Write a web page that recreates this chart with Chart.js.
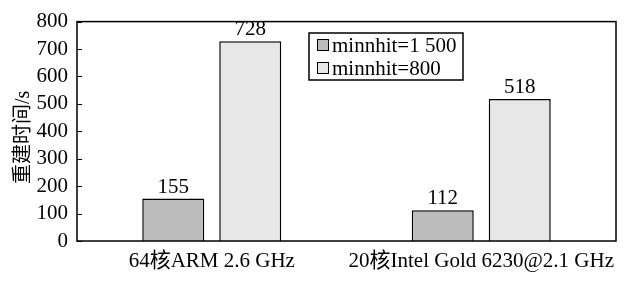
<!DOCTYPE html>
<html><head><meta charset="utf-8">
<script src="https://cdn.jsdelivr.net/npm/chart.js@4"></script>
<style>html,body{margin:0;padding:0;background:#fff}#wrap{width:627px;height:285px}</style>
</head><body><div id="wrap"><canvas id="c" width="627" height="285"></canvas></div>
<script>
const categories = ["64核ARM 2.6 GHz", "20核Intel Gold 6230@2.1 GHz"];
const seriesNames = ["minnhit=1 500", "minnhit=800"];
const minnhit1500 = [155, 112];
const minnhit800 = [728, 518];
const yTitle = "重建时间/s";
const FONT = "'Liberation Serif','Times New Roman','Noto Sans CJK SC',serif";

const framePlugin = {
  id: 'frame',
  afterDatasetsDraw(chart) {
    const {ctx, chartArea: a, scales: {y}} = chart;
    ctx.save();
    ctx.strokeStyle = '#000';
    ctx.lineWidth = 1.5;
    ctx.strokeRect(a.left, a.top, a.right - a.left, a.bottom - a.top);
    ctx.lineWidth = 1;
    y.ticks.forEach(t => {
      const py = Math.round(y.getPixelForValue(t.value)) + 0.5;
      ctx.beginPath(); ctx.moveTo(a.left, py); ctx.lineTo(a.left + 5, py); ctx.stroke();
    });
    // data labels
    ctx.fillStyle = '#000';
    ctx.font = "21px " + FONT;
    ctx.textAlign = 'center'; ctx.textBaseline = 'bottom';
    chart.data.datasets.forEach((ds, i) => {
      chart.getDatasetMeta(i).data.forEach((bar, j) => {
        ctx.fillText(String(ds.data[j]), bar.x, bar.y - 1);
      });
    });
    // y title
    ctx.save();
    ctx.translate(24, (a.top + a.bottom) / 2 + 6);
    ctx.rotate(-Math.PI / 2);
    ctx.textAlign = 'center'; ctx.textBaseline = 'middle';
    ctx.font = "20px " + FONT;
    ctx.fillText(yTitle, 0, 0);
    ctx.restore();
    // legend
    const lx = 309, ly = 33, lw = 154, lh = 47;
    ctx.fillStyle = '#fff';
    ctx.fillRect(lx, ly, lw, lh);
    ctx.lineWidth = 1.5;
    ctx.strokeRect(lx, ly, lw, lh);
    ctx.font = "21px " + FONT;
    ctx.textAlign = 'left'; ctx.textBaseline = 'middle';
    chart.data.datasets.forEach((ds, i) => {
      const cy = ly + 12 + i * 23;
      ctx.fillStyle = ds.backgroundColor;
      ctx.fillRect(317, cy - 6, 12, 12);
      ctx.lineWidth = 1;
      ctx.strokeStyle = '#000';
      ctx.strokeRect(317.5, cy - 5.5, 11, 11);
      ctx.fillStyle = '#000';
      ctx.fillText(ds.label, 332, cy + 1);
    });
    ctx.restore();
  }
};

new Chart(document.getElementById('c'), {
  type: 'bar',
  data: {
    labels: categories,
    datasets: [
      {label: seriesNames[0], data: minnhit1500, backgroundColor: '#bcbcbc', borderColor: '#000', borderWidth: 1.5},
      {label: seriesNames[1], data: minnhit800, backgroundColor: '#e7e7e7', borderColor: '#000', borderWidth: 1.5}
    ]
  },
  options: {
    responsive: false,
    animation: false,
    devicePixelRatio: 1,
    layout: {padding: {top: 21, right: 11, left: 0, bottom: 0}},
    datasets: {bar: {categoryPercentage: 0.5714, barPercentage: 0.805}},
    plugins: {legend: {display: false}, tooltip: {enabled: false}},
    scales: {
      x: {
        grid: {display: false, drawTicks: false},
        border: {display: false},
        ticks: {color: '#000', font: {family: FONT, size: 21}, padding: 8, maxRotation: 0, autoSkip: false},
        afterFit(s) { s.height = 44; }
      },
      y: {
        min: 0, max: 800,
        grid: {display: false, drawTicks: false},
        border: {display: false},
        ticks: {stepSize: 100, autoSkip: false, color: '#000', font: {family: FONT, size: 21}, padding: 9},
        afterFit(s) { s.width = 77; }
      }
    }
  },
  plugins: [framePlugin]
});
</script></body></html>
